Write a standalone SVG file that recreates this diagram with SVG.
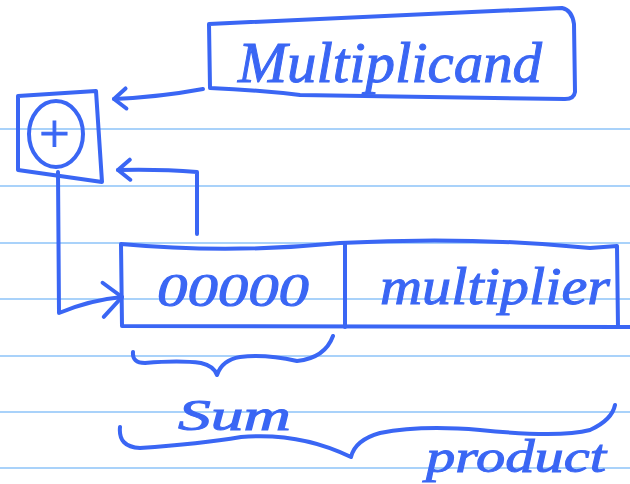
<svg xmlns="http://www.w3.org/2000/svg" width="630" height="484" viewBox="0 0 630 484">
<defs>
<style>
.ink{fill:none;stroke:#3a66f4;stroke-width:4;stroke-linecap:round;stroke-linejoin:round}
.rule{stroke:#a9d2fa;stroke-width:2}
.txt{fill:#3a66f4;stroke:#3a66f4;stroke-width:1;font-family:"Liberation Serif","DejaVu Serif",serif;font-style:italic}
</style>
<marker id="arr" markerWidth="26" markerHeight="26" refX="20" refY="13" orient="auto" markerUnits="userSpaceOnUse">
<path d="M8,3 L20,13 L8,23" fill="none" stroke="#3a66f4" stroke-width="4" stroke-linecap="round" stroke-linejoin="round"/>
</marker>
<marker id="arrBig" markerWidth="40" markerHeight="40" refX="32" refY="20" orient="auto" markerUnits="userSpaceOnUse">
<path d="M14,4 L32,20 L12,38" fill="none" stroke="#3a66f4" stroke-width="4" stroke-linecap="round" stroke-linejoin="round"/>
</marker>
</defs>
<rect width="630" height="484" fill="#ffffff"/>
<g id="paper-lines">
<line class="rule" x1="0" y1="129" x2="630" y2="129"/>
<line class="rule" x1="0" y1="186" x2="630" y2="186"/>
<line class="rule" x1="0" y1="243" x2="630" y2="243"/>
<line class="rule" x1="0" y1="299" x2="630" y2="299"/>
<line class="rule" x1="0" y1="356" x2="630" y2="356"/>
<line class="rule" x1="0" y1="412" x2="630" y2="412"/>
<line class="rule" x1="0" y1="468" x2="630" y2="468"/>
</g>
<g id="multiplicand">
<path class="ink" d="M209,24 L562,8 Q572,10 574,24 L575,92 Q574,99 565,99 Q440,97 300,95 Q260,90 210,88 Z"/>
<text class="txt" x="238" y="82" font-size="58" textLength="304" lengthAdjust="spacingAndGlyphs">Multiplicand</text>
</g>
<g id="adder">
<path class="ink" d="M18,96 L96,91 L102,182 L18,170 Z"/>
<ellipse class="ink" cx="56" cy="134" rx="27" ry="33"/>
<text class="txt" x="54" y="152" font-size="54" text-anchor="middle" font-style="normal" font-family="DejaVu Sans, sans-serif">+</text>
</g>
<g id="register">
<path class="ink" d="M121,244 Q230,254 340,243 Q470,236 590,248 L617,246 L618,327 L122,326 Z"/>
<line class="ink" x1="618" y1="327" x2="630" y2="327"/>
<line class="ink" x1="345" y1="244" x2="345" y2="327"/>
<text class="txt" x="157" y="306" font-size="46" textLength="152" lengthAdjust="spacingAndGlyphs">00000</text>
<text class="txt" x="380" y="304" font-size="52" textLength="230" lengthAdjust="spacingAndGlyphs">multiplier</text>
</g>
<g id="sum">
<path class="ink" d="M133,352 Q132,363 145,363 Q180,360 201,363 Q214,366 217,375 Q222,360 240,357 Q265,354 297,361 Q325,358 333,336"/>
<text class="txt" x="178" y="430" font-size="44" textLength="113" lengthAdjust="spacingAndGlyphs">Sum</text>
</g>
<g id="product">
<path class="ink" d="M120,427 Q118,447 140,448 Q200,444 241,437 Q300,432 351,457 Q355,440 380,433 Q420,425 480,430 Q560,438 590,430 Q612,420 615,405"/>
<text class="txt" x="426" y="472" font-size="46" textLength="180" lengthAdjust="spacingAndGlyphs">product</text>
</g>
<g id="connectors">
<path class="ink" d="M203,89 Q160,97 114,99" marker-end="url(#arr)"/>
<path class="ink" d="M197,234 L197,172 Q160,169 118,170" marker-end="url(#arr)"/>
<path class="ink" d="M58,172 L59,313 Q90,300 122,297" marker-end="url(#arrBig)"/>
</g>
</svg>
